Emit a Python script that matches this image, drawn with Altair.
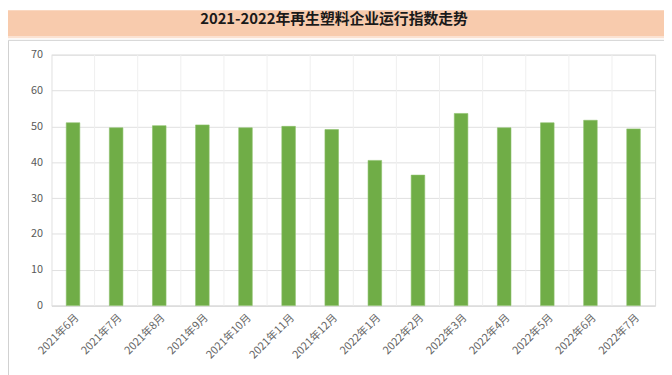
import altair as alt
import pandas as pd

months = ["2021年6月", "2021年7月", "2021年8月", "2021年9月", "2021年10月", "2021年11月",
          "2021年12月", "2022年1月", "2022年2月", "2022年3月", "2022年4月", "2022年5月",
          "2022年6月", "2022年7月"]
values = [51.0, 49.6, 50.2, 50.4, 49.6, 50.0, 49.1, 40.5, 36.4, 53.6, 49.6, 51.0, 51.7, 49.3]
title_text = "2021-2022年再生塑料企业运行指数走势"

df = pd.DataFrame({"month": months, "value": values})
FONT = "Noto Sans CJK SC"
W, H = 611, 254

xscale = alt.Scale(domain=months, paddingInner=0, paddingOuter=0)
xaxis = alt.Axis(title=None, labelAngle=-45, labelFont=FONT, labelFontSize=11,
                 labelColor="#666666", ticks=False, grid=False,
                 domainColor="#d9d9d9", labelPadding=6)

base = alt.Chart(df)

vgrid = base.mark_rule(color="#efefef", strokeWidth=1).encode(
    x=alt.X("month:N", scale=xscale, bandPosition=0, axis=xaxis, sort=months)
)

bars = base.mark_bar(color="#70AD47", stroke="#8cc06a", strokeWidth=0.6,
                     width=alt.RelativeBandSize(0.315)).encode(
    x=alt.X("month:N", scale=xscale, sort=months, axis=xaxis),
    y=alt.Y("value:Q", scale=alt.Scale(domain=[0, 70]),
            axis=alt.Axis(title=None, values=[0, 10, 20, 30, 40, 50, 60, 70],
                          labelFont=FONT, labelFontSize=11, labelColor="#595959",
                          ticks=False, domain=False, gridColor="#e0e0e0",
                          labelPadding=9)),
)

deco = alt.Data(values=[{"k": 1}])

band = alt.Chart(deco).mark_rect(color="#F8CBAD").encode(
    x=alt.value(-44), x2=alt.value(W + 9), y=alt.value(-45), y2=alt.value(-19)
)
strip = alt.Chart(deco).mark_rect(color="#FBE2D2").encode(
    x=alt.value(-44), x2=alt.value(W + 9), y=alt.value(-19), y2=alt.value(-16.5)
)
frame = alt.Chart(deco).mark_rect(fillOpacity=0, stroke="#d0d0d0", strokeWidth=1).encode(
    x=alt.value(-43.5), x2=alt.value(W + 30), y=alt.value(-14.5), y2=alt.value(H + 80)
)
title = alt.Chart(deco).mark_text(font=FONT, fontSize=15, fontWeight="bold", color="#1a1a1a",
                                  align="center", baseline="middle").encode(
    x=alt.value(286), y=alt.value(-36.5), text=alt.value(title_text)
)

chart = alt.layer(vgrid, bars, band, strip, frame, title).properties(
    width=W, height=H,
    autosize=alt.AutoSizeParams(type="none"),
    padding={"left": 44, "top": 45, "right": 9, "bottom": 68},
).configure_view(stroke="#ebebeb").configure(background="white")

chart.save("out.html", embed_options={"renderer": "svg", "actions": False})
